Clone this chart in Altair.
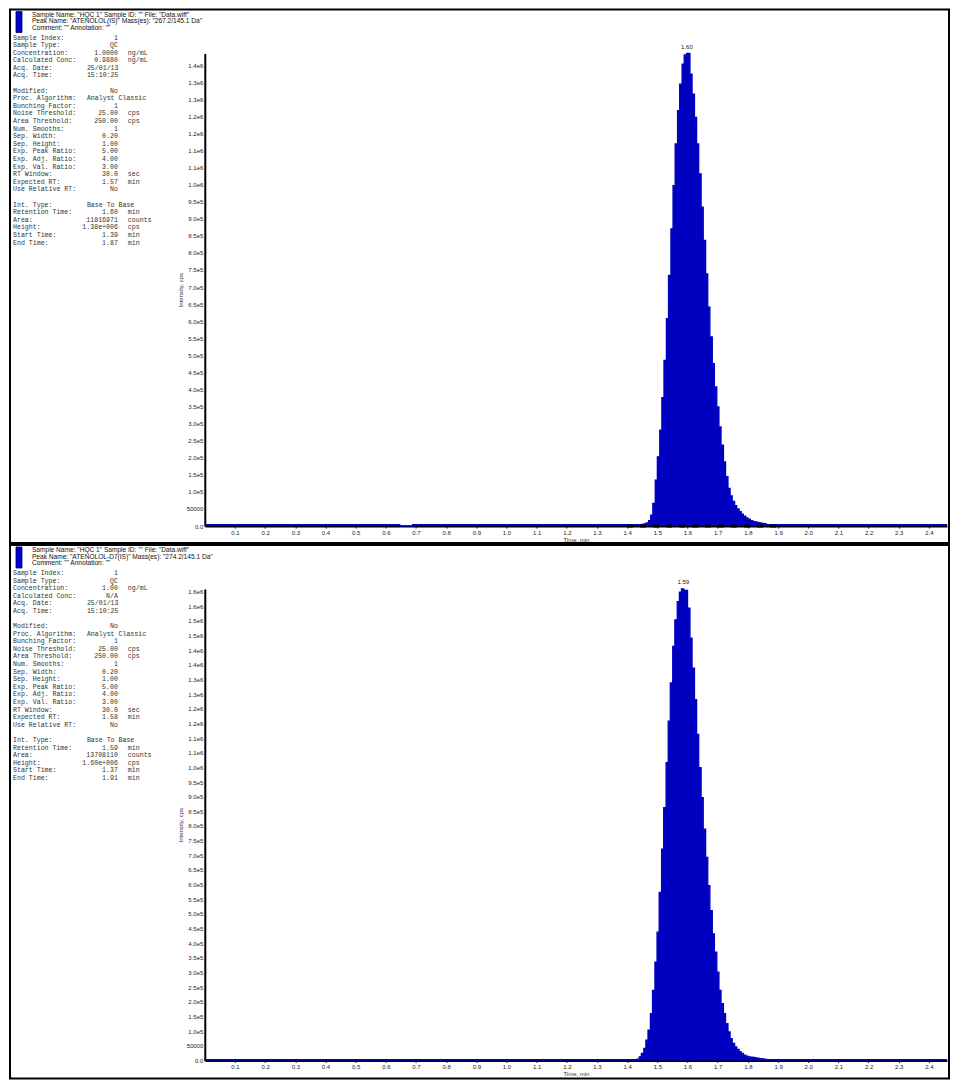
import altair as alt
import pandas as pd

# ------------------------------------------------------------------ data
X_TICKS = [0.1, 0.2, 0.3, 0.4, 0.5, 0.6, 0.7, 0.8, 0.9, 1.0, 1.1, 1.2,
           1.3, 1.4, 1.5, 1.6, 1.7, 1.8, 1.9, 2.0, 2.1, 2.2, 2.3, 2.4]
X_MAX = 2.46

Y1_LABELS = ["0.0", "50000", "1.0e5", "1.5e5", "2.0e5", "2.5e5", "3.0e5", "3.5e5",
             "4.0e5", "4.5e5", "5.0e5", "5.5e5", "6.0e5", "6.5e5", "7.0e5", "7.5e5",
             "8.0e5", "8.5e5", "9.0e5", "9.5e5", "1.0e6", "1.1e6", "1.1e6", "1.2e6",
             "1.2e6", "1.3e6", "1.3e6", "1.4e6"]
Y2_LABELS = Y1_LABELS + ["1.4e6", "1.5e6", "1.5e6", "1.6e6", "1.6e6"]
Y_STEP = 50000

# top chromatogram (time, min / intensity, cps)
T1 = [0.000, 0.646, 0.689, 1.449, 1.456, 1.463, 1.471, 1.478, 1.485, 1.493, 1.500,
      1.508, 1.515, 1.522, 1.530, 1.537, 1.545, 1.552, 1.559, 1.567, 1.574, 1.582,
      1.589, 1.597, 1.608, 1.615, 1.623, 1.630, 1.637, 1.645, 1.652, 1.660, 1.667,
      1.674, 1.682, 1.689, 1.697, 1.704, 1.711, 1.719, 1.726, 1.734, 1.741, 1.748,
      1.756, 1.763, 1.771, 1.778, 1.785, 1.793, 1.800, 1.808, 1.815, 1.822, 1.830,
      1.837, 1.845, 1.852, 1.860, 2.460]
I1 = [4000, 0, 4000, 5000, 6000, 9000, 16000, 32200, 66300, 134500, 202700,
      280700, 376200, 485400, 607200, 733900, 870400, 997100, 1119000, 1216400, 1294300, 1352800,
      1380000, 1384000, 1323600, 1265100, 1196900, 1119000, 1031200, 933800, 836300, 738800, 641300,
      553600, 475600, 407400, 348900, 290400, 236800, 188100, 144300, 110000, 88000, 72000,
      60000, 50000, 42000, 35000, 29000, 24000, 20000, 16000, 13500, 12000, 10500,
      9000, 8000, 7000, 4000, 4000]
Y1_MAX = 1384000
PEAK1 = {"t": [1.598], "i": [1384000], "lab": ["1.60"]}
INTEG1 = {"s": [1.40], "e": [1.90], "y": [0]}

# bottom chromatogram
T2 = [0.000, 1.432, 1.440, 1.447, 1.455, 1.462, 1.469, 1.477, 1.484, 1.492, 1.499,
      1.506, 1.514, 1.521, 1.529, 1.536, 1.543, 1.551, 1.558, 1.566, 1.573, 1.580,
      1.588, 1.600, 1.608, 1.615, 1.623, 1.630, 1.637, 1.645, 1.652, 1.660, 1.667,
      1.674, 1.682, 1.689, 1.697, 1.704, 1.711, 1.719, 1.726, 1.734, 1.741, 1.748,
      1.756, 1.763, 1.771, 1.778, 1.785, 1.793, 1.800, 1.808, 1.815, 1.822, 1.830,
      1.837, 1.845, 1.852, 1.860, 2.460]
I2 = [3000, 4500, 12500, 23800, 40800, 69100, 103200, 159800, 239200, 335600, 437600,
      573600, 721000, 862700, 1015800, 1157500, 1287800, 1412500, 1503200, 1565600, 1598000, 1608700,
      1604000, 1542900, 1440900, 1338900, 1231200, 1112100, 998800, 896800, 789000, 692700, 596300,
      511300, 431900, 369600, 301600, 239200, 193900, 159800, 125800, 97500, 74800, 57800,
      46500, 37400, 29500, 23800, 18100, 14700, 12500, 11300, 10200, 8800, 7500,
      6500, 5500, 4500, 3000, 3000]
Y2_MAX = 1608700
PEAK2 = {"t": [1.586], "i": [1608700], "lab": ["1.59"]}

HEADER1 = ['Sample Name: "HQC 1"    Sample ID: ""    File: "Data.wiff"',
           'Peak Name: "ATENOLOL(IS)"    Mass(es): "267.2/145.1 Da"',
           'Comment: ""    Annotation: ""']
HEADER2 = ['Sample Name: "HQC 1"    Sample ID: ""    File: "Data.wiff"',
           'Peak Name: "ATENOLOL-D7(IS)"    Mass(es): "274.2/145.1 Da"',
           'Comment: ""    Annotation: ""']

INFO_LABELS = ["Sample Index:", "Sample Type:", "Concentration:", "Calculated Conc:",
               "Acq. Date:", "Acq. Time:", "", "Modified:", "Proc. Algorithm:",
               "Bunching Factor:", "Noise Threshold:", "Area Threshold:", "Num. Smooths:",
               "Sep. Width:", "Sep. Height:", "Exp. Peak Ratio:", "Exp. Adj. Ratio:",
               "Exp. Val. Ratio:", "RT Window:", "Expected RT:", "Use Relative RT:", "",
               "Int. Type:", "Retention Time:", "Area:", "Height:", "Start Time:", "End Time:"]
INFO1_VALUES = ["1", "QC", "1.0000", "0.9880", "25/01/13", "15:10:25", "", "No",
                "Analyst Classic", "1", "25.00", "250.00", "1", "0.20", "1.00", "5.00",
                "4.00", "3.00", "30.0", "1.57", "No", "", "Base To Base", "1.60",
                "11816971", "1.38e+006", "1.39", "1.87"]
INFO2_VALUES = ["1", "QC", "1.00", "N/A", "25/01/13", "15:10:25", "", "No",
                "Analyst Classic", "1", "25.00", "250.00", "1", "0.20", "1.00", "5.00",
                "4.00", "3.00", "30.0", "1.58", "No", "", "Base To Base", "1.59",
                "13708110", "1.60e+006", "1.37", "1.91"]
INFO1_UNITS = ["", "", "ng/mL", "ng/mL", "", "", "", "", "", "", "cps", "cps", "", "", "",
               "", "", "", "sec", "min", "", "", "", "min", "counts", "cps", "min", "min"]
INFO2_UNITS = ["", "", "ng/mL", "", "", "", "", "", "", "", "cps", "cps", "", "", "",
               "", "", "", "sec", "min", "", "", "", "min", "counts", "cps", "min", "min"]
LEFT_VALUES = {"25/01/13", "15:10:25", "Analyst Classic", "Base To Base"}

# ------------------------------------------------------------------ style
BLUE = "#0000C0"
W, H1, H2 = 743, 473, 472
MONO = "Liberation Mono"
SANS = "Liberation Sans"


def panel(times, ints, ymax, ylabels, peak, header, values, units, height, integ=None):
    df = pd.DataFrame({"t": times, "i": ints})
    label_expr = "[" + ",".join("'%s'" % s for s in ylabels) + "][round(datum.value / %d)]" % Y_STEP
    yticks = [k * Y_STEP for k in range(len(ylabels))]

    xenc = alt.X("t:Q", scale=alt.Scale(domain=[0, X_MAX], nice=False, zero=False),
                 axis=alt.Axis(values=X_TICKS, tickCount=200, format=".1f", title="Time, min",
                               labelFontSize=6, labelFont=SANS, labelColor="#222",
                               titleFontSize=6, titleFont=SANS, titleFontWeight="normal",
                               titleColor="#333", tickSize=2, tickColor="black",
                               domainColor="black", domainWidth=2, grid=False,
                               labelPadding=1, titlePadding=1, labelOverlap=False,
                               labelFlush=False))
    yenc = alt.Y("i:Q", scale=alt.Scale(domain=[0, ymax], nice=False),
                 axis=alt.Axis(values=yticks, tickCount=200, labelExpr=label_expr,
                               title="Intensity, cps",
                               labelFontSize=6, labelFont=SANS, labelColor="#222",
                               titleFontSize=6, titleFont=SANS, titleFontWeight="normal",
                               titleColor="#335", ticks=False, domainColor="black",
                               domainWidth=2, grid=False, labelPadding=2, titlePadding=3,
                               labelOverlap=False, labelFlush=False))

    area = alt.Chart(df).mark_area(interpolate="step-after", color=BLUE).encode(x=xenc, y=yenc)
    line = alt.Chart(df).mark_line(interpolate="step-after", color=BLUE,
                                   strokeWidth=1.3).encode(x="t:Q", y="i:Q")
    peak_lab = alt.Chart(pd.DataFrame(peak)).mark_text(
        dy=-7, fontSize=6, font=SANS, color="#222").encode(x="t:Q", y="i:Q", text="lab:N")

    layers = [area, line]
    if integ is not None:
        layers.append(alt.Chart(pd.DataFrame(integ)).mark_rule(
            color="black", strokeWidth=3, strokeDash=[6, 7]).encode(
            x="s:Q", x2="e:Q", y="y:Q"))
    layers.append(peak_lab)

    one = pd.DataFrame({"k": [0]})
    frame = alt.Chart(one).mark_rect(fillOpacity=0, stroke="black", strokeWidth=2).encode(
        x=alt.value(-195), x2=alt.value(745), y=alt.value(-44), y2=alt.value(490))
    marker = alt.Chart(one).mark_rect(color="#0000D0", stroke="#000060", strokeWidth=0.8).encode(
        x=alt.value(-189), x2=alt.value(-183), y=alt.value(-42), y2=alt.value(-21))

    hdf = pd.DataFrame({"row": list(range(len(header))), "txt": header})
    head = alt.Chart(hdf).transform_calculate(yp="-39 + datum.row * 6.6").mark_text(
        align="left", baseline="middle", fontSize=6.6, font=SANS, color="#111").encode(
        x=alt.value(-173), y=alt.Y("yp:Q", scale=None, axis=None), text="txt:N")

    info = pd.DataFrame({"row": list(range(len(INFO_LABELS))), "lab": INFO_LABELS,
                         "val": values, "unit": units,
                         "side": ["L" if v in LEFT_VALUES else "R" for v in values]})
    base = alt.Chart(info).transform_calculate(yp="-16 + datum.row * 7.6")
    txt_kw = dict(baseline="middle", fontSize=6.6, font=MONO, color="#333")
    ypos = alt.Y("yp:Q", scale=None, axis=None)
    info_lab = base.mark_text(align="left", **txt_kw).encode(
        x=alt.value(-192), y=ypos, text="lab:N")
    info_val_r = base.transform_filter("datum.side == 'R'").mark_text(align="right", **txt_kw).encode(
        x=alt.value(-87), y=ypos, text="val:N")
    info_val_l = base.transform_filter("datum.side == 'L'").mark_text(align="left", **txt_kw).encode(
        x=alt.value(-118), y=ypos, text="val:N")
    info_unit = base.mark_text(align="left", **txt_kw).encode(
        x=alt.value(-77), y=ypos, text="unit:N")

    return alt.layer(frame, marker, *layers, head, info_lab, info_val_r, info_val_l,
                     info_unit).properties(width=W, height=height)


top = panel(T1, I1, Y1_MAX, Y1_LABELS, PEAK1, HEADER1, INFO1_VALUES, INFO1_UNITS, H1, INTEG1)
bottom = panel(T2, I2, Y2_MAX, Y2_LABELS, PEAK2, HEADER2, INFO2_VALUES, INFO2_UNITS, H2)

chart = alt.vconcat(top, bottom, spacing=0).properties(
    padding={"left": 1, "top": 0, "right": 0, "bottom": 0}
).configure_view(stroke=None).configure_axis(labelOverlap=False)

chart.save("out.html", embed_options={"renderer": "svg", "actions": False})
